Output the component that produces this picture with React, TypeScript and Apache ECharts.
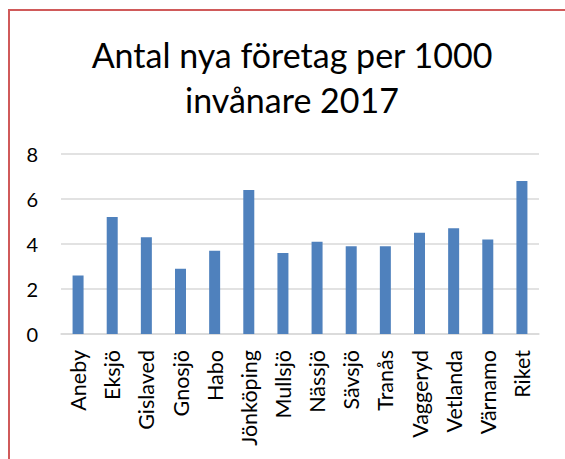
import React, { useEffect, useRef } from "react";
import * as echarts from "echarts";

const titleLines = ["Antal nya företag per 1000", "invånare 2017"];
const categories = [
  "Aneby", "Eksjö", "Gislaved", "Gnosjö", "Habo", "Jönköping", "Mullsjö",
  "Nässjö", "Sävsjö", "Tranås", "Vaggeryd", "Vetlanda", "Värnamo", "Riket",
];
const values = [2.6, 5.2, 4.3, 2.9, 3.7, 6.4, 3.6, 4.1, 3.9, 3.9, 4.5, 4.7, 4.2, 6.8];
const yTicks = { min: 0, max: 8, interval: 2 };

const FONT = "Lato, 'Open Sans', sans-serif";

export default function App() {
  const ref = useRef<HTMLDivElement>(null);
  useEffect(() => {
    if (!ref.current) return;
    const chart = echarts.init(ref.current, undefined, { renderer: "svg" });
    chart.setOption({
      animation: false,
      backgroundColor: "#ffffff",
      title: {
        text: titleLines.join("\n"),
        left: 287,
        top: 27,
        textAlign: "center",
        textStyle: {
          fontFamily: FONT,
          fontSize: 34,
          fontWeight: "normal",
          color: "#000000",
          lineHeight: 45,
        },
      },
      graphic: [
        {
          type: "rect",
          shape: { x: 9, y: 10, width: 620, height: 520 },
          style: { fill: "none", stroke: "#d05a5a", lineWidth: 2 },
          silent: true,
        },
      ],
      grid: { left: 61, right: 26, top: 154, bottom: 125, containLabel: false },
      xAxis: {
        type: "category",
        data: categories,
        axisLine: { show: true, lineStyle: { color: "#d9d9d9", width: 1.5 } },
        axisTick: { show: false },
        axisLabel: {
          interval: 0,
          rotate: 90,
          margin: 16,
          fontFamily: FONT,
          fontSize: 21.5,
          color: "#000000",
        },
      },
      yAxis: {
        type: "value",
        min: yTicks.min,
        max: yTicks.max,
        interval: yTicks.interval,
        axisLine: { show: false },
        axisTick: { show: false },
        splitLine: { lineStyle: { color: "#d9d9d9", width: 1.5 } },
        axisLabel: {
          margin: 23,
          fontFamily: FONT,
          fontSize: 20,
          color: "#000000",
        },
      },
      series: [
        {
          type: "bar",
          data: values,
          barWidth: 11,
          itemStyle: { color: "#4f81bd" },
        },
      ],
    });
    return () => chart.dispose();
  }, []);
  return (
    <div
      ref={ref}
      style={{ position: "absolute", left: 0, top: 0, width: 565, height: 459 }}
    />
  );
}
